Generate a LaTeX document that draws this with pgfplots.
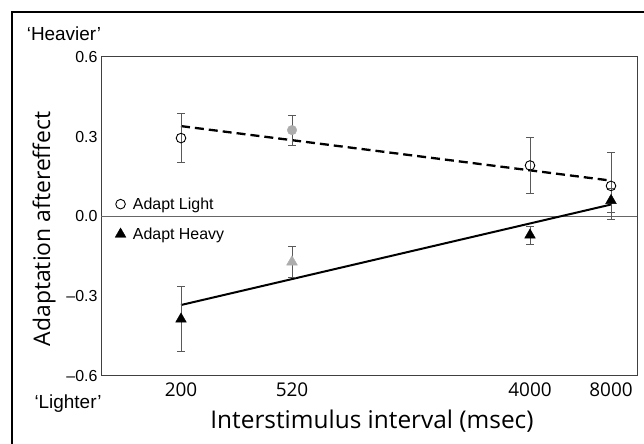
\documentclass[border=0pt]{standalone}
\usepackage{fontspec}
\setmainfont{Liberation Sans}
\newfontfamily\labelfont{Open Sans}
\usepackage{pgfplots}
\pgfplotsset{compat=1.18}
\definecolor{ptgray}{gray}{0.68}
\definecolor{ebgray}{gray}{0.35}

\begin{document}
\begin{tikzpicture}
\useasboundingbox (0bp,0bp) rectangle (644bp,444bp);
% outer frame (right and bottom sides fall outside the picture)
\draw[line width=2.4bp] (12bp,-5bp) -- (12bp,432bp) -- (650bp,432bp);
\begin{axis}[
    at={(101bp,68bp)}, anchor=south west,
    scale only axis, width=536bp, height=319bp,
    xmin=101, xmax=637, ymin=-0.6, ymax=0.6,
    xtick={181,292,530,611}, xticklabels={200,520,4000,8000},
    ytick={-0.6,-0.3,0,0.3,0.6}, yticklabels={--0.6,--0.3,0.0,0.3,0.6},
    major tick length=0pt,
    axis line style={black!75, line width=1bp},
    xticklabel style={font=\labelfont\fontsize{19}{22}\selectfont, yshift=-3bp},
    yticklabel style={font=\fontsize{16}{18}\selectfont},
    clip=false,
    legend style={at={(axis cs:112,-0.01)}, anchor=west, draw=none, fill=none,
        font=\fontsize{16}{18}\selectfont, row sep=13bp},
    legend cell align=left,
    ebar/.style={error bars/.cd, y dir=both, y explicit,
        error bar style={ebgray, line width=0.7bp},
        error mark options={rotate=90, ebgray, mark size=3.8bp, line width=0.7bp},
        /pgfplots/.cd},
]
% zero line
\addplot[black!60, line width=1bp, forget plot] coordinates {(101,0) (637,0)};
% fitted lines
\addplot[black, line width=2.3bp, dash pattern=on 9bp off 5bp, forget plot] coordinates {(181,0.34) (611,0.135)};
\addplot[black, line width=2bp, forget plot] coordinates {(181,-0.333) (611,0.045)};
% Adapt Light
\addplot[only marks, mark=o, black, mark size=4.8bp, mark options={line width=0.9bp}, ebar] coordinates {
    (181,0.295) +- (0,0.092)
    (530,0.192) +- (0,0.104)
    (611,0.115) +- (0,0.125)
};
\addlegendentry{\hspace{5bp}Adapt Light}
% Adapt Heavy
\addplot[only marks, mark=triangle*, black, mark size=6.2bp, ebar] coordinates {
    (181,-0.386) +- (0,0.122)
    (530,-0.070) +- (0,0.033)
    (611,0.060) +- (0,0.045)
};
\addlegendentry{\hspace{5bp}Adapt Heavy}
% gray points at 520
\addplot[forget plot, only marks, mark=*, ptgray, mark size=4.8bp, ebar] coordinates {(292,0.325) +- (0,0.057)};
\addplot[forget plot, only marks, mark=triangle*, ptgray, mark size=6.2bp, ebar] coordinates {(292,-0.171) +- (0,0.057)};
\end{axis}
\node[anchor=base, font=\fontsize{19}{21}\selectfont] at (64bp,403bp) {‘Heavier’};
\node[anchor=base, font=\fontsize{19}{21}\selectfont] at (68bp,36bp) {‘Lighter’};
\node[anchor=base, font=\labelfont\fontsize{24.5}{27}\selectfont] at (372bp,16bp) {Interstimulus interval (msec)};
\node[anchor=base, rotate=90, font=\labelfont\fontsize{23}{26}\selectfont] at (50bp,215bp) {Adaptation aftereffect};
\end{tikzpicture}
\end{document}
